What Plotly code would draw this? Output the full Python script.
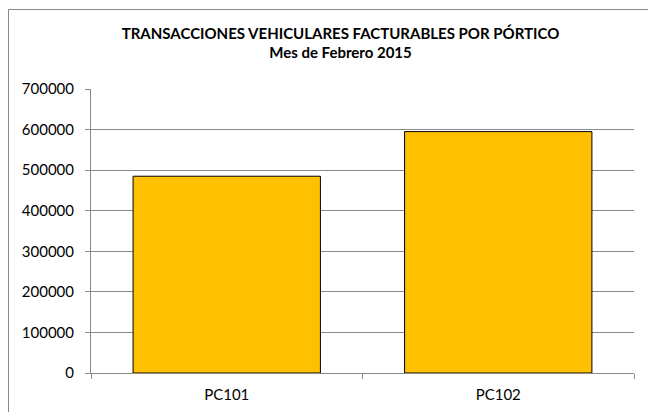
import plotly.graph_objects as go

categories = ["PC101", "PC102"]
values = [485000, 595000]
y_ticks = [0, 100000, 200000, 300000, 400000, 500000, 600000, 700000]

FONT = "Lato"
GRID = "#898989"

fig = go.Figure(go.Bar(
    x=categories, y=values,
    marker=dict(color="#FFC000", line=dict(color="#000000", width=1)),
))

W, H = 648, 412
L, R, T, B = 91, 14, 89, 39
pw, ph = W - L - R, H - T - B

def px2x(px):
    return (px - L) / pw

def py2y(py):
    return (H - B - py) / ph

fig.update_layout(
    width=W, height=H,
    margin=dict(l=L, r=R, t=T, b=B, autoexpand=False),
    paper_bgcolor="white", plot_bgcolor="white",
    showlegend=False,
    bargap=0.31,
    font=dict(family=FONT, size=15, color="#000000"),
    title=dict(
        text="<b>TRANSACCIONES VEHICULARES FACTURABLES POR PÓRTICO</b><br><b>Mes de Febrero 2015</b>",
        x=340.5 / W, xanchor="center", y=1 - 38.5 / H, yanchor="middle",
        font=dict(family=FONT, size=15, color="#000000"),
    ),
    xaxis=dict(
        type="category", showgrid=False, showline=True, linecolor=GRID, linewidth=1,
        ticks="outside", tickson="boundaries", ticklen=5, tickcolor=GRID,
        tickfont=dict(size=15), ticklabelstandoff=8,
    ),
    yaxis=dict(
        range=[0, 700000], tickvals=y_ticks, tickformat="d",
        showgrid=True, gridcolor=GRID, gridwidth=1,
        showline=True, linecolor=GRID, linewidth=1,
        ticks="outside", ticklen=5, tickcolor=GRID,
        zeroline=False, tickfont=dict(size=15), ticklabelstandoff=8,
    ),
    shapes=[dict(
        type="rect", xref="paper", yref="paper",
        x0=px2x(8.5), x1=px2x(720), y0=py2y(440), y1=py2y(9.5),
        line=dict(color=GRID, width=1), layer="below",
    )],
)

fig.write_html(
    "out.html",
    config={"displayModeBar": False},
    post_script="document.body.style.margin='0';document.body.style.overflow='hidden';",
)
